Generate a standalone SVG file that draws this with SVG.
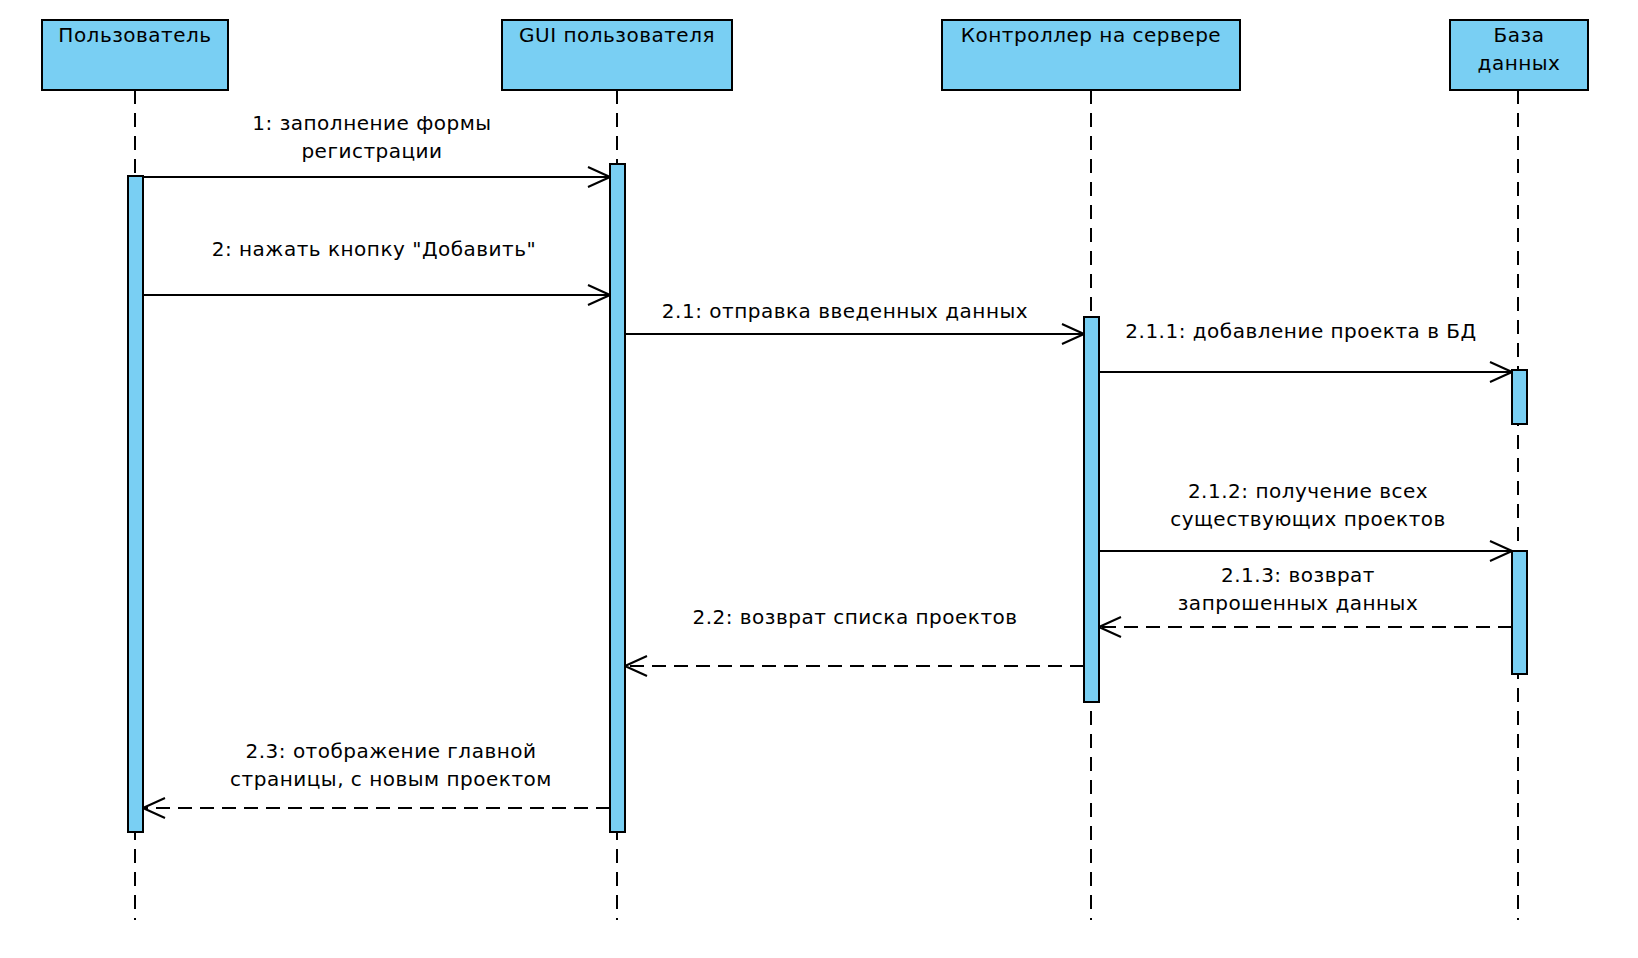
<svg xmlns="http://www.w3.org/2000/svg" width="1638" height="958" viewBox="0 0 1638 958">
  <style>
    .head { fill: #79CFF3; stroke: #000; stroke-width: 2; }
    .act { fill: #79CFF3; stroke: #000; stroke-width: 2; }
    .life { stroke: #000; stroke-width: 2; stroke-dasharray: 14 9; fill: none; }
    .msg { stroke: #000; stroke-width: 2; fill: none; }
    .ret { stroke: #000; stroke-width: 2; fill: none; stroke-dasharray: 14 8; }
    .arrowhead { stroke: #000; stroke-width: 2; fill: none; stroke-dasharray: none; }
    text { font-family: "DejaVu Sans", "Noto Sans", sans-serif; font-size: 20px; letter-spacing: 0.5px; fill: #000; text-anchor: middle; }
  </style>
  <defs>
    <marker id="open" viewBox="0 0 24 22" refX="23" refY="11" markerWidth="24" markerHeight="22" markerUnits="userSpaceOnUse" orient="auto">
      <path class="arrowhead" d="M1,1 L23,11 L1,21"/>
    </marker>
  </defs>
  <rect width="1638" height="958" fill="#fff"/>

  <!-- lifelines -->
  <g id="lifelines">
    <line class="life" x1="135" y1="90" x2="135" y2="920"/>
    <line class="life" x1="617" y1="90" x2="617" y2="920"/>
    <line class="life" x1="1091" y1="90" x2="1091" y2="920"/>
    <line class="life" x1="1518" y1="90" x2="1518" y2="920"/>
  </g>

  <!-- participants -->
  <g id="user">
    <rect class="head" x="42" y="20" width="186" height="70"/>
    <text x="135" y="42">Пользователь</text>
    <rect class="act" x="128" y="176" width="15" height="656"/>
  </g>
  <g id="gui">
    <rect class="head" x="502" y="20" width="230" height="70"/>
    <text x="617" y="42">GUI пользователя</text>
    <rect class="act" x="610" y="164" width="15" height="668"/>
  </g>
  <g id="controller">
    <rect class="head" x="942" y="20" width="298" height="70"/>
    <text x="1091" y="42">Контроллер на сервере</text>
    <rect class="act" x="1084" y="317" width="15" height="385"/>
  </g>
  <g id="database">
    <rect class="head" x="1450" y="20" width="138" height="70"/>
    <text x="1519" y="42">База</text>
    <text x="1519" y="70">данных</text>
    <rect class="act" x="1512" y="370" width="15" height="54"/>
    <rect class="act" x="1512" y="551" width="15" height="123"/>
  </g>

  <!-- messages -->
  <g id="connectors">
    <line class="msg" x1="143" y1="177" x2="610" y2="177" marker-end="url(#open)"/>
    <line class="msg" x1="143" y1="295" x2="610" y2="295" marker-end="url(#open)"/>
    <line class="msg" x1="625" y1="334" x2="1084" y2="334" marker-end="url(#open)"/>
    <line class="msg" x1="1099" y1="372" x2="1512" y2="372" marker-end="url(#open)"/>
    <line class="msg" x1="1099" y1="551" x2="1512" y2="551" marker-end="url(#open)"/>
    <line class="ret" x1="1512" y1="627" x2="1099" y2="627" marker-end="url(#open)"/>
    <line class="ret" x1="1084" y1="666" x2="625" y2="666" marker-end="url(#open)"/>
    <line class="ret" x1="610" y1="808" x2="143" y2="808" marker-end="url(#open)"/>
  </g>

  <!-- message labels -->
  <g id="labels">
    <text x="372" y="130">1: заполнение формы</text>
    <text x="372" y="158">регистрации</text>
    <text x="374" y="256">2: нажать кнопку "Добавить"</text>
    <text x="845" y="318">2.1: отправка введенных данных</text>
    <text x="1301" y="338">2.1.1: добавление проекта в БД</text>
    <text x="1308" y="498">2.1.2: получение всех</text>
    <text x="1308" y="526">существующих проектов</text>
    <text x="1298" y="582">2.1.3: возврат</text>
    <text x="1298" y="610">запрошенных данных</text>
    <text x="855" y="624">2.2: возврат списка проектов</text>
    <text x="391" y="758">2.3: отображение главной</text>
    <text x="391" y="786">страницы, с новым проектом</text>
  </g>
</svg>
